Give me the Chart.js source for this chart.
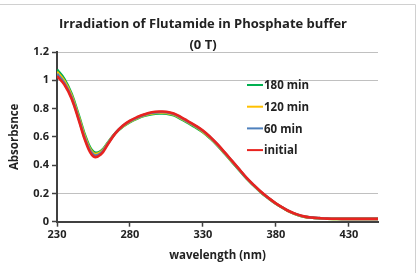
<!DOCTYPE html>
<html>
<head>
<meta charset="utf-8">
<script src="https://cdn.jsdelivr.net/npm/chart.js@4"></script>
<style>
  html, body { margin: 0; padding: 0; background: #fff; }
  canvas { display: block; }
</style>
</head>
<body>
<canvas id="chart" width="420" height="273"></canvas>
<script>
const wavelengths = [230, 235, 240, 245, 250, 255, 260, 265, 270, 275, 280, 285, 290, 295, 300, 305, 310, 315, 320, 325, 330, 335, 340, 345, 350, 355, 360, 365, 370, 375, 380, 385, 390, 395, 400, 405, 410, 415, 420, 425, 430, 435, 440, 445, 450];

const initial = [1.03, 0.97, 0.87, 0.715, 0.555, 0.462, 0.475, 0.55, 0.625, 0.678, 0.714, 0.74, 0.76, 0.774, 0.779, 0.778, 0.765, 0.74, 0.71, 0.68, 0.645, 0.6, 0.548, 0.49, 0.43, 0.37, 0.31, 0.258, 0.21, 0.168, 0.13, 0.098, 0.07, 0.05, 0.036, 0.029, 0.025, 0.022, 0.021, 0.02, 0.02, 0.02, 0.02, 0.02, 0.02];
const min60 = [1.045, 0.982, 0.88, 0.725, 0.566, 0.474, 0.484, 0.555, 0.626, 0.676, 0.711, 0.736, 0.756, 0.77, 0.775, 0.774, 0.761, 0.736, 0.706, 0.676, 0.641, 0.597, 0.545, 0.487, 0.428, 0.368, 0.308, 0.257, 0.208, 0.167, 0.129, 0.097, 0.069, 0.049, 0.035, 0.029, 0.025, 0.022, 0.021, 0.02, 0.02, 0.02, 0.02, 0.02, 0.02];
const min120 = [1.06, 0.995, 0.892, 0.737, 0.577, 0.484, 0.492, 0.558, 0.626, 0.673, 0.708, 0.733, 0.753, 0.765, 0.77, 0.769, 0.757, 0.731, 0.702, 0.672, 0.637, 0.593, 0.542, 0.484, 0.425, 0.366, 0.306, 0.256, 0.206, 0.166, 0.128, 0.097, 0.068, 0.048, 0.034, 0.028, 0.024, 0.021, 0.02, 0.02, 0.02, 0.02, 0.02, 0.02, 0.02];
const min180 = [1.075, 1.01, 0.905, 0.75, 0.59, 0.494, 0.5, 0.562, 0.627, 0.671, 0.705, 0.73, 0.749, 0.76, 0.765, 0.764, 0.752, 0.726, 0.697, 0.667, 0.633, 0.589, 0.538, 0.481, 0.422, 0.363, 0.304, 0.254, 0.205, 0.165, 0.127, 0.096, 0.068, 0.048, 0.034, 0.028, 0.024, 0.021, 0.02, 0.02, 0.02, 0.02, 0.02, 0.02, 0.02];

const seriesLabels = ['initial', '60 min', '120 min', '180 min'];
const seriesColors = ['#e8231f', '#4f81bd', '#ffc000', '#00b050'];
const xTicks = [230, 280, 330, 380, 430];
const yTicks = [0, 0.2, 0.4, 0.6, 0.8, 1, 1.2];
const yGridShown = [0.2, 1, 1.2];
const titleLines = ['Irradiation of Flutamide in Phosphate buffer', '(0 T)'];

const FONT = '"Open Sans", Lato, sans-serif';

const toPoints = (ys) => wavelengths.map((x, i) => ({ x: x, y: ys[i] }));

// title, outer frame and the legend drawn by hand
const decor = {
  id: 'decor',
  afterDraw(chart) {
    const ctx = chart.ctx;
    ctx.save();
    ctx.strokeStyle = '#d0d0d0';
    ctx.lineWidth = 1;
    ctx.beginPath();
    ctx.moveTo(0, 4.5);
    ctx.lineTo(415.5, 4.5);
    ctx.lineTo(415.5, 273);
    ctx.stroke();

    ctx.fillStyle = '#222';
    ctx.font = 'bold 13px ' + FONT;
    ctx.textAlign = 'center';
    ctx.textBaseline = 'middle';
    ctx.fillText(titleLines[0], 203, 24);
    ctx.fillText(titleLines[1], 203, 45);

    // legend, top entry is the last series
    ctx.font = 'bold 11.5px ' + FONT;
    ctx.textAlign = 'left';
    const ds = chart.data.datasets;
    for (let k = 0; k < ds.length; k++) {
      const d = ds[ds.length - 1 - k];
      const y = 85 + k * 21.7;
      ctx.strokeStyle = d.borderColor;
      ctx.lineWidth = 2;
      ctx.beginPath();
      ctx.moveTo(247, y);
      ctx.lineTo(263, y);
      ctx.stroke();
      ctx.fillStyle = '#222';
      ctx.fillText(d.label, 264, y + 1);
    }
    ctx.restore();
  }
};

new Chart(document.getElementById('chart'), {
  type: 'line',
  data: {
    datasets: [
      { label: seriesLabels[0], data: toPoints(initial), borderColor: seriesColors[0] },
      { label: seriesLabels[1], data: toPoints(min60), borderColor: seriesColors[1] },
      { label: seriesLabels[2], data: toPoints(min120), borderColor: seriesColors[2] },
      { label: seriesLabels[3], data: toPoints(min180), borderColor: seriesColors[3] }
    ].map((d) => Object.assign(d, { borderWidth: 2.6, pointRadius: 0, tension: 0.4, fill: false }))
  },
  options: {
    responsive: false,
    animation: false,
    layout: { padding: { top: 52, right: 42, left: 0, bottom: 0 } },
    plugins: {
      legend: { display: false },
      title: { display: false },
      tooltip: { enabled: false }
    },
    scales: {
      x: {
        type: 'linear',
        min: 230,
        max: 450,
        afterBuildTicks: (scale) => { scale.ticks = xTicks.map((v) => ({ value: v })); },
        afterFit: (scale) => { scale.height = 51.3; },
        border: { color: '#404040', width: 2 },
        grid: { drawOnChartArea: false, tickLength: 5, tickColor: '#404040', tickWidth: 1.5 },
        ticks: { color: '#222', font: { family: FONT, size: 11, weight: 'bold' }, padding: 2, maxRotation: 0 },
        title: { display: true, text: 'wavelength (nm)', color: '#222', font: { family: FONT, size: 11.5, weight: 'bold' }, padding: { top: 0, bottom: 10 } }
      },
      // grey gridlines only at the levels shown in the original
      yGrid: {
        position: 'left',
        min: 0,
        max: 1.2,
        afterBuildTicks: (scale) => { scale.ticks = yGridShown.map((v) => ({ value: v })); },
        afterFit: (scale) => { scale.width = 0; },
        border: { display: false },
        grid: { color: '#c0c0c0', lineWidth: 1, drawTicks: false },
        ticks: { display: false }
      },
      y: {
        position: 'left',
        min: 0,
        max: 1.2,
        afterBuildTicks: (scale) => { scale.ticks = yTicks.map((v) => ({ value: v })); },
        afterFit: (scale) => { scale.width = 57; },
        border: { color: '#404040', width: 2 },
        grid: { drawOnChartArea: false, tickLength: 5, tickColor: '#404040', tickWidth: 1.5 },
        ticks: {
          color: '#222',
          padding: 3,
          font: { family: FONT, size: 11, weight: 'bold' },
          callback: (v) => String(v)
        },
        title: { display: true, text: 'Absorbsnce', color: '#222', font: { family: FONT, size: 11.5, weight: 'bold' }, padding: { top: 8, bottom: 0 } }
      }
    }
  },
  plugins: [decor]
});
</script>
</body>
</html>
